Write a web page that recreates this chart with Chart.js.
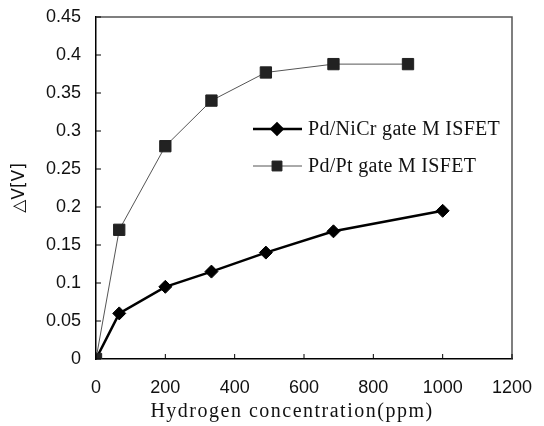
<!DOCTYPE html>
<html>
<head>
<meta charset="utf-8">
<script src="https://cdn.jsdelivr.net/npm/chart.js@4/dist/chart.umd.min.js"></script>
<style>
  html, body { margin: 0; padding: 0; background: #fff; }
  #wrap { width: 544px; height: 426px; }
</style>
</head>
<body>
<div id="wrap"><canvas id="grafica"></canvas></div>
<script>
// datos
const nicrX = [0, 67, 200, 333, 490, 685, 1000];
const nicrY = [0, 0.06, 0.095, 0.115, 0.14, 0.168, 0.195];
const ptX = [0, 67, 200, 333, 490, 685, 900];
const ptY = [0, 0.17, 0.28, 0.34, 0.377, 0.388, 0.388];
const nombreNiCr = 'Pd/NiCr gate M ISFET';
const nombrePt = 'Pd/Pt gate M ISFET';
const yTicks = ['0', '0.05', '0.1', '0.15', '0.2', '0.25', '0.3', '0.35', '0.4', '0.45'];
const xTicks = ['0', '200', '400', '600', '800', '1000', '1200'];
const tituloX = 'Hydrogen concentration(ppm)';

const toPts = (xs, ys) => xs.map((x, i) => ({ x: x, y: ys[i] }));

// marco, marcas hacia dentro, leyenda y titulo x
const extras = {
  id: 'extras',
  afterDraw(chart) {
    const ctx = chart.ctx;
    const a = chart.chartArea;
    const sx = chart.scales.x;
    const sy = chart.scales.y;
    ctx.save();
    ctx.strokeStyle = '#555';
    ctx.lineWidth = 1.5;
    ctx.beginPath();
    ctx.moveTo(a.left, a.top);
    ctx.lineTo(a.right, a.top);
    ctx.lineTo(a.right, a.bottom);
    ctx.stroke();

    ctx.strokeStyle = '#000';
    ctx.lineWidth = 1;
    sx.ticks.forEach(t => {
      const px = sx.getPixelForValue(t.value);
      ctx.beginPath();
      ctx.moveTo(px, a.bottom);
      ctx.lineTo(px, a.bottom - 5);
      ctx.stroke();
    });
    sy.ticks.forEach(t => {
      const py = sy.getPixelForValue(t.value);
      ctx.beginPath();
      ctx.moveTo(a.left, py);
      ctx.lineTo(a.left + 5, py);
      ctx.stroke();
    });

    // leyenda: NiCr arriba, Pt abajo
    const lx = a.left + 157;
    const filas = [[1, a.top + 112, 5.5], [0, a.top + 149, 7]];
    filas.forEach(([i, y, r]) => {
      const ds = chart.data.datasets[i];
      ctx.strokeStyle = ds.borderColor;
      ctx.lineWidth = ds.borderWidth;
      ctx.beginPath();
      ctx.moveTo(lx, y);
      ctx.lineTo(lx + 49, y);
      ctx.stroke();
      ctx.fillStyle = ds.pointBackgroundColor;
      ctx.strokeStyle = ds.pointBorderColor;
      Chart.helpers.drawPoint(ctx, {
        pointStyle: ds.pointStyle,
        radius: r,
        borderWidth: 1
      }, lx + 24, y);
      ctx.fillStyle = '#111';
      ctx.font = '20px "Liberation Serif", serif';
      ctx.letterSpacing = '0.3px';
      ctx.textBaseline = 'middle';
      ctx.textAlign = 'left';
      ctx.fillText(ds.label, lx + 55, y + 1);
    });

    // titulo del eje x (con algo de espaciado)
    ctx.fillStyle = '#111';
    ctx.font = '20px "Liberation Serif", serif';
    ctx.letterSpacing = '1.5px';
    ctx.textAlign = 'center';
    ctx.textBaseline = 'alphabetic';
    ctx.fillText(tituloX, 292, a.bottom + 58);
    ctx.restore();
  }
};

const ctx = document.getElementById('grafica').getContext('2d');
new Chart(ctx, {
  type: 'line',
  data: {
    datasets: [
      {
        label: nombrePt,
        data: toPts(ptX, ptY),
        borderColor: '#555',
        borderWidth: 1,
        backgroundColor: '#222',
        pointBackgroundColor: '#222',
        pointBorderColor: '#222',
        pointStyle: 'rect',
        pointRadius: 8,
        pointBorderWidth: 1,
        order: 0
      },
      {
        label: nombreNiCr,
        data: toPts(nicrX, nicrY),
        borderColor: '#000',
        borderWidth: 2.5,
        backgroundColor: '#000',
        pointBackgroundColor: '#000',
        pointBorderColor: '#000',
        pointStyle: 'rectRot',
        pointRadius: 6.5,
        pointBorderWidth: 1,
        order: 1
      }
    ]
  },
  options: {
    responsive: true,
    maintainAspectRatio: false,
    animation: false,
    layout: { padding: { top: 17, right: 32, left: 0, bottom: 0 } },
    plugins: {
      legend: { display: false },
      tooltip: { enabled: false }
    },
    scales: {
      x: {
        type: 'linear',
        min: 0,
        max: 1200,
        grid: { display: false, drawTicks: false },
        border: { display: true, color: '#000', width: 1.5 },
        ticks: {
          stepSize: 200,
          padding: 18,
          color: '#111',
          font: { family: '"Liberation Sans", Arial, sans-serif', size: 18 },
          callback: (v, i) => xTicks[i]
        },
        afterFit: s => { s.height = 67; s.paddingLeft = 0; s.paddingRight = 0; }
      },
      y: {
        min: 0,
        max: 0.45,
        grid: { display: false, drawTicks: false },
        border: { display: true, color: '#000', width: 1.5 },
        ticks: {
          stepSize: 0.05,
          padding: 15,
          color: '#111',
          font: { family: '"Liberation Sans", Arial, sans-serif', size: 18 },
          callback: (v, i) => yTicks[i]
        },
        title: {
          display: true,
          text: '\u25B3V[V]',
          color: '#111',
          font: { family: '"DejaVu Sans", sans-serif', size: 17 },
          padding: { top: 9, bottom: 0 }
        },
        afterFit: s => { s.width = 96; s.paddingTop = 0; s.paddingBottom = 0; }
      }
    }
  },
  plugins: [extras]
});
</script>
</body>
</html>
